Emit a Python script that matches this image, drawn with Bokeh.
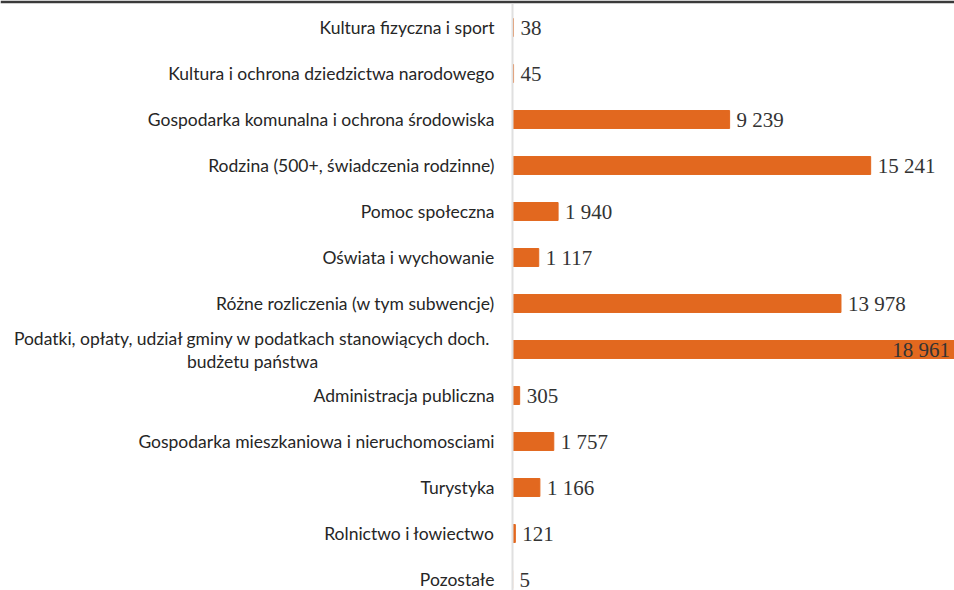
from bokeh.plotting import figure
from bokeh.models import Range1d, ColumnDataSource, Span
from bokeh.core.properties import value
from bokeh.embed import file_html
from bokeh.resources import INLINE

categories = [
    "Kultura fizyczna i sport",
    "Kultura i ochrona dziedzictwa narodowego",
    "Gospodarka komunalna i ochrona środowiska",
    "Rodzina (500+, świadczenia rodzinne)",
    "Pomoc społeczna",
    "Oświata i wychowanie",
    "Różne rozliczenia (w tym subwencje)",
    "Podatki, opłaty, udział gminy w podatkach stanowiących doch.\nbudżetu państwa",
    "Administracja publiczna",
    "Gospodarka mieszkaniowa i nieruchomosciami",
    "Turystyka",
    "Rolnictwo i łowiectwo",
    "Pozostałe",
]
values = [38, 45, 9239, 15241, 1940, 1117, 13978, 18961, 305, 1757, 1166, 121, 5]
value_labels = ["38", "45", "9 239", "15 241", "1 940", "1 117", "13 978", "18 961",
                "305", "1 757", "1 166", "121", "5"]

pos = list(range(len(categories)))
n = len(categories)

BAR = "#E2681F"
px_per_unit = 0.0235
W, H = 954, 590
TOP = 3
x_start = -512 / px_per_unit
x_end = (W - 512) / px_per_unit
row = 46.0
y_rng = Range1d(start=(n - 1) + 11 / row, end=-(24 / row))

p = figure(width=W, height=H, output_backend="svg", toolbar_location=None,
           x_range=Range1d(x_start, x_end), y_range=y_rng,
           min_border_left=0, min_border_right=0, min_border_bottom=0,
           min_border_top=TOP)
p.border_fill_color = "#3a3a3a"
p.background_fill_color = "white"
p.outline_line_color = None
p.xaxis.visible = False
p.yaxis.visible = False
p.grid.visible = False

p.add_layout(Span(location=0, dimension="height", line_color="#e0e0e0", line_width=2))

src = ColumnDataSource(dict(y=pos, v=values, lab=value_labels, cat=categories))
p.hbar(y="y", left=0, right="v", height=0.39, color=BAR, source=src)

# value labels (outside bars)
out_idx = [i for i in pos if values[i] < max(values)]
in_idx = [i for i in pos if values[i] == max(values)]
so = ColumnDataSource(dict(y=[pos[i] for i in out_idx], v=[values[i] for i in out_idx],
                           lab=[value_labels[i] for i in out_idx]))
p.text(x="v", y="y", text="lab", source=so, x_offset=7, text_align="left",
       text_baseline="middle", text_font=value("Liberation Serif"),
       text_font_size="21px", text_color="#333333")
si = ColumnDataSource(dict(y=[pos[i] for i in in_idx], v=[values[i] for i in in_idx],
                           lab=[value_labels[i] for i in in_idx]))
p.text(x="v", y="y", text="lab", source=si, x_offset=-8, text_align="right",
       text_baseline="middle", text_font=value("Liberation Serif"),
       text_font_size="21px", text_color="#333333")

# category labels
single = [i for i in pos if "\n" not in categories[i]]
multi = [i for i in pos if "\n" in categories[i]]
sc = ColumnDataSource(dict(y=[pos[i] for i in single], x=[0] * len(single),
                           cat=[categories[i] for i in single]))
p.text(x="x", y="y", text="cat", source=sc, x_offset=-18, text_align="right",
       text_baseline="middle", text_font=value("Lato"), text_font_size="17.5px",
       text_color="#262626")
for i in multi:
    lines = categories[i].split("\n")
    for k, ln in enumerate(lines):
        p.text(x=[0], y=[pos[i]], text=[ln], x_offset=-260, y_offset=(-11 if k == 0 else 12),
               text_align="center", text_baseline="middle", text_font=value("Lato"),
               text_font_size="17.5px", text_color="#262626")

open("out.html", "w").write(file_html(p, INLINE))
